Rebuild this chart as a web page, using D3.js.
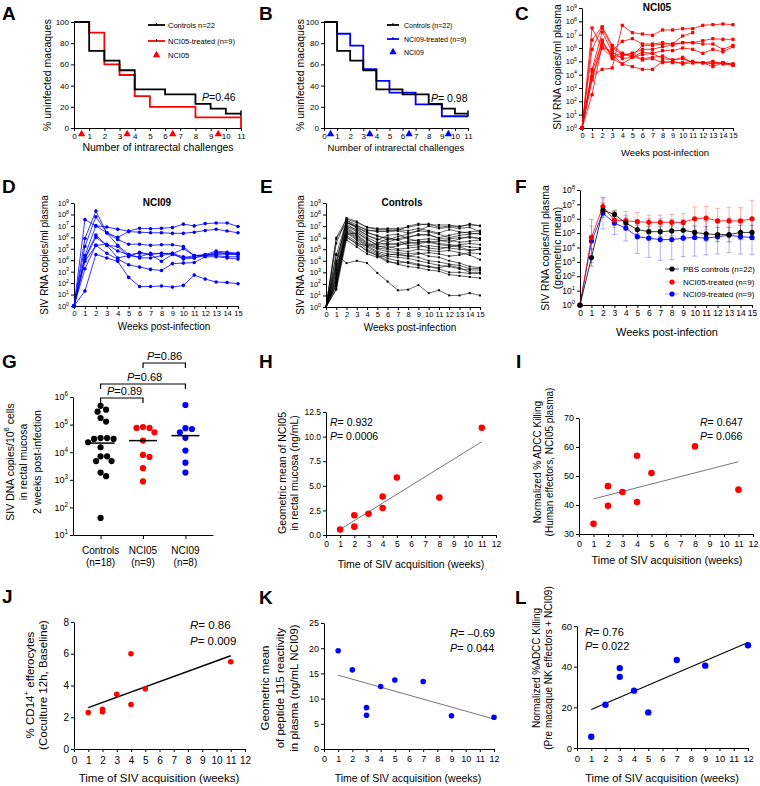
<!DOCTYPE html>
<html><head><meta charset="utf-8">
<script src="https://cdn.jsdelivr.net/npm/d3@7/dist/d3.min.js"></script>
<style>html,body{margin:0;padding:0;background:#fff;overflow:hidden}svg{display:block}</style>
</head><body>
<script>
// ================= DATA =================
// A/B: Kaplan-Meier (% uninfected) per challenge interval
const challengeX   = d3.range(0, 12);
const survTicks    = [0, 20, 40, 60, 80, 100];
const survControls = [100, 72.7, 63.6, 54.5, 36.4, 36.4, 31.8, 31.8, 22.7, 18.2, 13.6, 13.6];
const survNCI05    = [100, 90, 60, 50, 30, 20, 20, 20, 10, 10, 10, 0];
const survNCI09    = [100, 88.9, 77.8, 55.6, 44.4, 33.3, 33.3, 22.2, 22.2, 11.1, 11.1, 11.1];
const doseTimes    = [0.5, 3.5, 6.5, 9.5];

// C/D/E: log10 SIV RNA copies/ml, weeks 0..15
const weeks = d3.range(0, 16);
const vlNCI05 = [
 [0,3.9,4.4,4.5,7.7,7.15,7.05,6.95,7.35,7.35,7.45,7.45,7.7,7.75,7.8,7.75],
 [0,7.5,6.0,5.8,6.5,6.7,6.3,6.3,6.4,6.3,6.9,7.15,null,null,null,null],
 [0,6.6,7.6,6.2,5.6,5.4,6.2,6.2,6.3,6.3,6.4,6.4,6.55,6.7,6.65,6.65],
 [0,5.9,7.5,6.0,5.5,5.6,5.9,5.9,6.1,6.2,6.4,6.4,6.3,6.3,5.9,6.2],
 [0,4.4,7.2,5.7,5.2,5.3,5.7,5.6,5.8,5.8,6.0,5.9,5.6,5.9,5.7,6.1],
 [0,4.2,6.5,5.4,5.6,5.3,5.5,5.6,5.2,5.1,5.2,4.9,4.9,4.8,4.9,4.7],
 [0,3.8,6.0,5.3,5.4,5.6,5.1,5.2,4.9,5.0,4.8,4.9,4.9,4.6,4.9,4.8],
 [0,3.6,6.6,5.2,4.8,4.6,4.4,4.4,5.0,4.9,4.9,5.0,4.9,5.0,4.8,4.7],
 [0,2.5,6.3,5.5,4.8,5.3,5.2,5.3,5.4,5.1,5.3,4.9,4.9,4.9,4.9,4.8]
];
const vlNCI09 = [
 [0,7.55,7.0,6.9,6.7,6.55,6.8,6.75,6.8,6.85,7.15,7.0,7.2,7.25,7.25,6.95],
 [0,5.9,8.3,6.4,5.8,5.4,5.4,5.3,5.35,5.35,5.2,4.4,4.5,4.8,4.7,4.6],
 [0,5.2,7.8,6.4,6.0,6.5,6.45,6.4,6.4,6.35,6.35,6.45,6.6,6.7,6.55,6.4],
 [0,4.4,7.0,6.4,5.3,4.5,4.6,4.5,4.6,4.55,5.0,4.4,4.4,4.7,4.6,4.5],
 [0,4.2,6.2,5.3,5.2,4.3,4.7,4.5,3.9,4.5,4.2,4.4,4.4,4.6,4.5,4.5],
 [0,3.9,5.3,5.4,4.8,4.5,4.2,4.2,4.4,4.6,4.1,4.2,4.4,4.4,4.3,4.3],
 [0,3.25,5.3,4.6,4.1,3.6,3.4,3.2,3.1,3.7,3.75,3.8,4.3,4.3,4.2,4.1],
 [0,1.3,4.5,4.2,3.9,2.5,1.7,1.7,1.75,1.65,1.8,2.7,2.35,2.1,2.05,1.95],
 [0,4.1,6.0,5.3,4.2,4.4,4.3,4.6,4.6,4.6,4.3,4.2,4.5,4.5,4.6,4.6]
];
const vlControls = [
 [0,6.0,7.6,7.3,6.9,6.8,6.8,6.8,6.9,7.1,7.2,6.9,7.0,7.0,7.1,7.05],
 [0,5.5,7.7,7.4,6.9,6.7,6.7,6.6,7.0,7.2,7.1,7.1,7.1,6.9,7.2,7.0],
 [0,4.5,7.5,7.1,6.6,6.6,6.5,6.6,6.4,6.6,7.0,6.8,6.9,6.8,6.9,6.5],
 [0,4.0,7.3,6.9,6.4,6.2,5.8,6.1,6.3,6.6,6.5,6.3,6.0,6.2,6.3,6.4],
 [0,3.6,7.4,6.8,6.2,5.9,5.6,5.9,6.1,6.2,6.3,5.9,5.9,6.0,6.0,5.95],
 [0,3.2,7.2,6.6,6.0,5.6,5.4,5.5,5.7,5.8,5.9,5.8,5.6,5.9,6.1,5.9],
 [0,3.0,7.0,6.5,5.8,5.4,5.5,5.4,5.5,5.6,5.7,5.5,5.4,5.3,5.2,5.1],
 [0,2.8,6.9,6.3,5.6,5.2,5.3,5.0,5.1,5.2,5.3,5.2,5.1,5.0,4.9,5.0],
 [0,2.6,6.8,6.2,5.5,5.1,5.0,4.9,4.8,5.0,4.9,4.8,4.9,4.7,4.5,4.1],
 [0,2.4,6.7,6.1,5.4,5.0,4.8,4.7,4.6,4.7,4.4,4.3,4.0,3.8,3.5,3.4],
 [0,2.2,6.6,6.0,5.3,4.8,4.6,4.5,4.4,4.3,4.0,3.9,3.7,3.6,3.3,3.35],
 [0,2.0,6.5,5.9,5.2,4.7,4.4,4.3,4.2,4.0,3.8,3.6,3.5,3.3,3.2,3.2],
 [0,1.8,6.4,5.8,5.0,4.6,4.2,4.0,3.8,3.6,3.5,3.3,3.0,3.0,2.9,2.9],
 [0,1.6,6.2,5.6,4.8,4.5,4.0,3.7,3.5,3.4,3.2,3.1,2.8,2.7,2.6,2.5],
 [0,5.9,7.3,7.0,6.7,6.5,6.6,6.7,6.6,6.8,6.6,6.4,6.7,6.5,6.4,6.3],
 [0,3.4,6.0,5.5,5.3,5.5,5.9,5.8,5.3,5.4,5.1,5.0,5.2,5.4,5.5,5.4],
 [0,2.1,6.3,6.4,5.9,5.3,5.1,5.3,5.6,5.5,5.6,5.4,5.3,5.2,4.9,5.0],
 [0,1.5,5.8,5.2,4.6,4.3,4.5,4.6,4.4,4.6,4.7,4.6,4.4,4.5,4.7,4.6],
 [0,2.5,7.0,6.7,6.2,5.8,6.2,6.3,5.9,5.7,5.6,5.7,5.8,5.6,5.7,5.8],
 [0,3.8,7.5,6.9,6.5,6.1,6.0,5.8,6.0,6.3,6.2,6.0,6.2,6.4,6.5,6.6],
 [0,1.9,6.1,5.4,4.9,4.4,3.9,3.8,3.9,3.7,3.5,3.4,3.6,3.4,3.0,3.0],
 [0,4.6,3.8,4.0,3.8,2.95,2.2,1.45,1.5,1.9,1.2,1.45,1.0,1.0,1.2,1.0]
];

// F: geometric means (log10) and error (log10 units)
const meanControls = [0,3.3,6.6,6.3,5.7,5.25,5.1,5.1,5.15,5.2,5.05,4.95,4.9,4.9,5.05,5.05];
const meanNCI05    = [0,4.7,6.85,5.9,5.85,5.8,5.75,5.75,5.75,5.75,6.0,6.05,5.85,5.85,5.85,6.0];
const meanNCI09    = [0,4.45,6.4,5.7,5.35,4.75,4.65,4.55,4.55,4.65,4.7,4.65,4.75,4.85,4.75,4.7];
const errControls  = [0,0.6,0.5,0.3,0.35,0.3,0.35,0.35,0.35,0.4,0.45,0.5,0.5,0.5,0.5,0.5];
const errNCI05     = [0,0.8,0.6,0.5,0.65,0.63,0.5,0.5,0.55,0.6,0.83,0.81,0.88,0.95,0.92,1.25];
const errNCI09     = [0,1.5,1.1,0.8,0.9,1.16,1.34,1.44,1.4,1.28,1.3,1.16,1.2,1.2,1.2,1.2];

// G: log10 SIV DNA copies / 10^6 cells
const gCategories = ["Controls", "NCI05", "NCI09"];
const dnaControls = [5.68,5.54,5.47,5.24,5.11,4.51,4.51,4.48,4.48,4.36,4.18,3.85,3.85,3.68,3.68,3.26,3.13,1.62];
const dnaNCI05    = [4.88,4.88,4.91,4.72,4.42,3.9,3.83,3.42,2.94];
const dnaNCI09    = [5.71,4.72,4.87,4.84,4.52,4.06,3.62,3.26];
const dnaMedians  = [4.33, 4.42, 4.6];
const gPvalues    = ["0.89", "0.68", "0.86"];

// H-L: correlations
const hWeeks = [1,2,2,3,4,4,5,8,11];
const hNCI05 = [0.55,2.0,0.85,2.15,3.9,2.75,5.85,3.8,10.9];
const iWeeks = [1,2,2,3,4,4,5,8,11];
const iADCC  = [33.5,46.5,39.7,44.5,57,41,51,60.2,45.3];
const jWeeks = [1,2,2,3,4,4,5,11];
const jCD14  = [2.3,2.5,2.35,3.45,6.0,2.8,3.8,5.5];
const kWeeks = [1,2,3,3,4,5,7,9,12];
const kPep   = [19.5,15.7,8.2,6.7,12.4,13.7,13.4,6.6,6.3];
const lWeeks = [1,2,3,3,4,5,7,9,12];
const lADCC  = [5.5,21.3,39.3,35,28.2,17.5,43.3,40.5,50.5];
const acqTicks = d3.range(0, 13);

// ================= HELPERS =================
const FONT = '"Liberation Sans", Arial, Helvetica, sans-serif';
const RED = '#ff0000', BLUE = '#0000ff', BLACK = '#000000';
const svg = d3.select('body').append('svg').attr('width', 760).attr('height', 786).attr('font-family', FONT);

function txt(x, y, s, fs, o = {}) {
  const t = svg.append('text').attr('x', x).attr('y', y).attr('font-size', fs).attr('fill', '#000')
    .attr('dominant-baseline', o.base || 'central');
  if (o.anchor) t.attr('text-anchor', o.anchor);
  if (o.weight) t.attr('font-weight', o.weight);
  t.text(s); return t;
}
function itText(x, y, it, rest, fs, anchor) {
  const t = svg.append('text').attr('x', x).attr('y', y).attr('font-size', fs).attr('dominant-baseline', 'central');
  if (anchor) t.attr('text-anchor', anchor);
  t.append('tspan').attr('font-style', 'italic').text(it);
  t.append('tspan').text(rest);
  return t;
}
function rot(x, yc, fs, build) {
  const t = svg.append('text').attr('transform', `translate(${x},${yc}) rotate(-90)`)
    .attr('text-anchor', 'middle').attr('dominant-baseline', 'central').attr('font-size', fs);
  if (typeof build === 'string') t.text(build); else build(t);
  return t;
}
function styleAxis(g, fs) {
  g.attr('font-family', FONT).attr('font-size', fs);
  g.selectAll('.domain,.tick line').attr('stroke', '#000').attr('stroke-width', 1);
  g.selectAll('.tick text').attr('fill', '#000');
  return g;
}
function supTicks(g, fs) {
  g.selectAll('.tick text').each(function (d) {
    const e = Math.round(Math.log10(d));
    const t = d3.select(this); t.text(null);
    t.append('tspan').text('10');
    t.append('tspan').attr('dy', -fs * 0.45).attr('font-size', fs * 0.7).text(e);
  });
}
function letter(s, x, y) {
  svg.append('text').attr('x', x).attr('y', y).attr('font-size', 19).attr('font-weight', 'bold').text(s);
}

// ================= A / B =================
function survPanel(c) {
  const x = d3.scaleLinear().domain([0, 11]).range([c.x0, c.x1]);
  const y = d3.scaleLinear().domain([0, 100]).range([c.y0, c.y1]);
  styleAxis(svg.append('g').attr('transform', `translate(0,${c.y0})`)
    .call(d3.axisBottom(x).tickValues(challengeX).tickSize(3).tickSizeOuter(0).tickPadding(2)), c.fs);
  styleAxis(svg.append('g').attr('transform', `translate(${c.x0},0)`)
    .call(d3.axisLeft(y).tickValues(survTicks).tickSize(3).tickSizeOuter(0).tickPadding(2)), c.fs);
  const line = d3.line().x((d, i) => x(challengeX[i])).y(d => y(d)).curve(d3.curveStepAfter);
  svg.append('path').attr('d', line(c.treated)).attr('fill', 'none').attr('stroke', c.color).attr('stroke-width', 1.8);
  svg.append('path').attr('d', line(survControls)).attr('fill', 'none').attr('stroke', BLACK).attr('stroke-width', 1.8);
  const L = survControls.length - 1;
  svg.append('line').attr('x1', x(challengeX[L])).attr('x2', x(challengeX[L]))
    .attr('y1', y(survControls[L]) - 3).attr('y2', y(survControls[L]) + 3).attr('stroke', BLACK).attr('stroke-width', 1.5);
  const tri = d3.symbol(d3.symbolTriangle).size(24);
  doseTimes.forEach(t => svg.append('path').attr('d', tri()).attr('transform', `translate(${x(t)},${c.y0 + 6})`).attr('fill', c.color));
  // legend
  const lg = c.legend;
  [[BLACK, lg.ys[0], c.labels[0]], [c.color, lg.ys[1], c.labels[1]]].forEach(([col, yy, lab]) => {
    svg.append('line').attr('x1', lg.lx0).attr('x2', lg.lx1).attr('y1', yy).attr('y2', yy).attr('stroke', col).attr('stroke-width', 1.8);
    svg.append('line').attr('x1', (lg.lx0 + lg.lx1) / 2).attr('x2', (lg.lx0 + lg.lx1) / 2).attr('y1', yy - 2).attr('y2', yy).attr('stroke', BLACK).attr('stroke-width', 1);
    txt(lg.tx, yy, lab, lg.fs);
  });
  svg.append('path').attr('d', tri()).attr('transform', `translate(${(lg.lx0 + lg.lx1) / 2},${lg.ys[2]})`).attr('fill', c.color);
  txt(lg.tx, lg.ys[2], c.labels[2], lg.fs);
  itText(c.px, c.py, 'P', c.p, 10.5);
  rot(c.ylx, (c.y0 + c.y1) / 2, 10.5, '% uninfected macaques');
  txt(c.xlx, c.xly, 'Number of intrarectal challenges', c.xlfs, { anchor: 'middle' });
}
survPanel({ x0: 74, x1: 241, y0: 128, y1: 22, fs: 8, treated: survNCI05, color: RED,
  legend: { lx0: 148, lx1: 165, tx: 168, ys: [25, 41, 55], fs: 7.5 },
  labels: ['Controls n=22', 'NCI05-treated (n=9)', 'NCI05'], p: '=0.46', px: 202, py: 97,
  ylx: 47, xlx: 158, xly: 147, xlfs: 10.5 });
survPanel({ x0: 324, x1: 468, y0: 128, y1: 22, fs: 8, treated: survNCI09, color: BLUE,
  legend: { lx0: 387, lx1: 399, tx: 404, ys: [25, 39, 52], fs: 7 },
  labels: ['Controls (n=22)', 'NCI09-treated (n=9)', 'NCI09'], p: '= 0.98', px: 431, py: 98,
  ylx: 300, xlx: 396, xly: 147, xlfs: 9.5 });

// ================= C / D / E =================
function vlPanel(c) {
  const x = d3.scaleLinear().domain([0, 15]).range([c.x0, c.x1]);
  const y = d3.scaleLog().domain([1, 10 ** c.maxE]).range([c.y0, c.y1]);
  styleAxis(svg.append('g').attr('transform', `translate(0,${c.y0})`)
    .call(d3.axisBottom(x).tickValues(weeks).tickSize(3).tickSizeOuter(0).tickPadding(2)), c.fs);
  const gy = styleAxis(svg.append('g').attr('transform', `translate(${c.x0},0)`)
    .call(d3.axisLeft(y).tickValues(d3.range(0, c.maxE + 1).map(e => 10 ** e)).tickFormat(d => d).tickSize(3).tickSizeOuter(0).tickPadding(2)), c.fs);
  supTicks(gy, c.fs);
  const line = d3.line().defined(d => d != null).x((d, i) => x(weeks[i])).y(d => y(10 ** d));
  c.series.forEach(s => {
    svg.append('path').attr('d', line(s)).attr('fill', 'none').attr('stroke', c.color).attr('stroke-width', c.lw);
    s.forEach((v, i) => {
      if (v == null) return;
      if (c.square) svg.append('rect').attr('x', x(weeks[i]) - c.ms / 2).attr('y', y(10 ** v) - c.ms / 2).attr('width', c.ms).attr('height', c.ms).attr('fill', c.color);
      else svg.append('circle').attr('cx', x(weeks[i])).attr('cy', y(10 ** v)).attr('r', c.ms / 2).attr('fill', c.color);
    });
  });
  txt(c.tx, c.ty, c.title, 10, { anchor: 'middle', weight: 'bold' });
  rot(c.ylx, c.yly, c.ylfs, 'SIV RNA copies/ml plasma');
  txt(c.xlx, c.xly, 'Weeks post-infection', c.xlfs, { anchor: 'middle' });
}
vlPanel({ x0: 582, x1: 733, y0: 128, y1: 8, maxE: 9, fs: 7.5, series: vlNCI05, color: RED, lw: 0.8, ms: 3.2, square: true,
  title: 'NCI05', tx: 657, ty: 7, ylx: 557, yly: 67, ylfs: 10.5, xlx: 665, xly: 152, xlfs: 9.5 });
vlPanel({ x0: 74, x1: 238, y0: 306, y1: 203, maxE: 9, fs: 7.5, series: vlNCI09, color: BLUE, lw: 0.8, ms: 3.6, square: false,
  title: 'NCI09', tx: 157, ty: 202, ylx: 44, yly: 255, ylfs: 10, xlx: 164, xly: 326, xlfs: 10 });
vlPanel({ x0: 326, x1: 480, y0: 307, y1: 203, maxE: 9, fs: 7.5, series: vlControls, color: BLACK, lw: 0.6, ms: 2, square: true,
  title: 'Controls', tx: 402, ty: 202, ylx: 300, yly: 255, ylfs: 10, xlx: 410, xly: 327, xlfs: 10 });

// ================= F =================
(function () {
  const x = d3.scaleLinear().domain([0, 15]).range([580, 752]);
  const y = d3.scaleLog().domain([1, 1e8]).range([305, 190]);
  styleAxis(svg.append('g').attr('transform', `translate(0,305)`)
    .call(d3.axisBottom(x).tickValues(weeks).tickSize(3).tickSizeOuter(0).tickPadding(2)), 8.5);
  const gy = styleAxis(svg.append('g').attr('transform', `translate(580,0)`)
    .call(d3.axisLeft(y).tickValues(d3.range(0, 9).map(e => 10 ** e)).tickFormat(d => d).tickSize(3).tickSizeOuter(0).tickPadding(2)), 8.5);
  supTicks(gy, 8.5);
  const groups = [
    { m: meanNCI09, e: errNCI09, col: BLUE, err: 'rgba(80,80,255,0.45)', lab: 'NCI09-treated (n=9)' },
    { m: meanNCI05, e: errNCI05, col: RED, err: 'rgba(255,80,80,0.45)', lab: 'NCI05-treated (n=9)' },
    { m: meanControls, e: errControls, col: BLACK, err: 'rgba(0,0,0,0.35)', lab: 'PBS controls (n=22)' }
  ];
  groups.forEach(g => {
    g.m.forEach((v, i) => {
      if (g.e[i] <= 0) return;
      const xx = x(weeks[i]), ya = y(10 ** (v + g.e[i])), yb = y(10 ** (v - g.e[i]));
      svg.append('line').attr('x1', xx).attr('x2', xx).attr('y1', ya).attr('y2', yb).attr('stroke', g.err).attr('stroke-width', 1);
      [ya, yb].forEach(yy => svg.append('line').attr('x1', xx - 2.5).attr('x2', xx + 2.5).attr('y1', yy).attr('y2', yy).attr('stroke', g.err).attr('stroke-width', 1));
    });
  });
  const line = d3.line().x((d, i) => x(weeks[i])).y(d => y(10 ** d));
  groups.forEach(g => {
    svg.append('path').attr('d', line(g.m)).attr('fill', 'none').attr('stroke', g.col).attr('stroke-width', 0.8);
    g.m.forEach((v, i) => svg.append('circle').attr('cx', x(weeks[i])).attr('cy', y(10 ** v)).attr('r', 2.6).attr('fill', g.col));
  });
  const legOrder = [groups[2], groups[1], groups[0]];
  [269, 282, 294].forEach((yy, k) => {
    const g = legOrder[k];
    svg.append('line').attr('x1', 665).attr('x2', 679).attr('y1', yy).attr('y2', yy).attr('stroke', g.col === BLACK ? '#444' : g.err).attr('stroke-width', 1);
    svg.append('circle').attr('cx', 672).attr('cy', yy).attr('r', 2.6).attr('fill', g.col);
    txt(683, yy, g.lab, 8);
  });
  rot(545, 248, 10.5, 'SIV RNA copies/ml plasma');
  rot(557, 248, 10.5, '(geometric mean)');
  txt(667, 332, 'Weeks post-infection', 11, { anchor: 'middle' });
})();

// ================= G =================
(function () {
  const x = d3.scalePoint().domain(gCategories).range([73, 213]).padding(0.65);
  const y = d3.scaleLog().domain([10, 1e6]).range([535, 397]);
  styleAxis(svg.append('g').attr('transform', 'translate(0,535)')
    .call(d3.axisBottom(x).tickSize(4).tickSizeOuter(0).tickFormat('')), 9);
  const gy = styleAxis(svg.append('g').attr('transform', 'translate(73,0)')
    .call(d3.axisLeft(y).tickValues(d3.range(1, 7).map(e => 10 ** e)).tickFormat(d => d).tickSize(3).tickSizeOuter(0).tickPadding(2)), 9);
  supTicks(gy, 9);
  const sets = [[dnaControls, BLACK], [dnaNCI05, RED], [dnaNCI09, BLUE]];
  const r = 3.1, dmin = 2 * r + 0.3;
  sets.forEach(([vals, col], k) => {
    const cx = x(gCategories[k]);
    const pts = vals.map(v => ({ v, y: y(10 ** v) })).sort((a, b) => a.y - b.y);
    const placed = [];
    pts.forEach(p => {
      for (let j = 0; j < 400; j++) {
        const off = (j % 2 === 1 ? 1 : -1) * Math.ceil(j / 2) * 0.5;
        const xx = cx + off;
        if (placed.every(q => (q.x - xx) ** 2 + (q.y - p.y) ** 2 >= dmin * dmin)) { p.x = xx; break; }
      }
      placed.push(p);
    });
    placed.forEach(p => svg.append('circle').attr('cx', p.x).attr('cy', p.y).attr('r', r).attr('fill', col));
    const my = y(10 ** dnaMedians[k]);
    svg.append('line').attr('x1', cx - 14).attr('x2', cx + 14).attr('y1', my).attr('y2', my).attr('stroke', BLACK).attr('stroke-width', 1.5);
    txt(cx, 550, gCategories[k], 10, { anchor: 'middle' });
    txt(cx, 562, `(n=${vals.length})`, 10, { anchor: 'middle' });
  });
  // comparison brackets
  const br = [[0, 1, 398, 107], [0, 2, 384, 127], [1, 2, 363, 147]];
  br.forEach(([a, b, yy, tx], k) => {
    const xa = x(gCategories[a]), xb = x(gCategories[b]);
    svg.append('path').attr('d', `M${xa},${yy + 5}V${yy}H${xb}V${yy + 5}`).attr('fill', 'none').attr('stroke', BLACK).attr('stroke-width', 1.2);
    itText(tx, yy - 7, 'P', '=' + gPvalues[k], 11);
  });
  const t = svg.append('text').attr('transform', 'translate(10,462) rotate(-90)').attr('text-anchor', 'middle').attr('dominant-baseline', 'central').attr('font-size', 10.5);
  t.append('tspan').text('SIV DNA copies/10');
  t.append('tspan').attr('dy', -4).attr('font-size', 7.5).text('6');
  t.append('tspan').attr('dy', 4).text(' cells');
  rot(23, 462, 10.5, 'in rectal mucosa');
  rot(37, 462, 10.5, '2 weeks post-infection');
})();

// ================= H - L =================
function scatterPanel(c) {
  const x = d3.scaleLinear().domain([0, 12]).range([c.x0, c.x1]);
  const y = d3.scaleLinear().domain(c.yDom).range([c.y0, c.y1]);
  styleAxis(svg.append('g').attr('transform', `translate(0,${c.y0})`)
    .call(d3.axisBottom(x).tickValues(acqTicks).tickSize(3).tickSizeOuter(0).tickPadding(c.xpad)), c.fs);
  styleAxis(svg.append('g').attr('transform', `translate(${c.x0},0)`)
    .call(d3.axisLeft(y).tickValues(c.yTicks).tickFormat(d3.format(c.fmt)).tickSize(3).tickSizeOuter(0).tickPadding(2)), c.fs);
  const xs = c.xs, ys = c.ys;
  const mx = d3.mean(xs), my = d3.mean(ys);
  const b = d3.sum(xs, (v, i) => (v - mx) * (ys[i] - my)) / d3.sum(xs, v => (v - mx) ** 2);
  const a = my - b * mx;
  const [xa, xb] = d3.extent(xs);
  svg.append('line').attr('x1', x(xa)).attr('x2', x(xb)).attr('y1', y(a + b * xa)).attr('y2', y(a + b * xb))
    .attr('stroke', c.fitCol).attr('stroke-width', c.fitW);
  xs.forEach((v, i) => svg.append('circle').attr('cx', x(v)).attr('cy', y(ys[i])).attr('r', c.r).attr('fill', c.color));
  itText(c.sx, c.sy1, 'R', c.rTxt, c.sfs);
  itText(c.sx, c.sy2, 'P', c.pTxt, c.sfs);
  c.ylab.forEach((l, i) => rot(c.ylxs[i], c.yly, c.ylfs, l));
  txt(c.xlx, c.xly, 'Time of SIV acquisition (weeks)', c.xlfs, { anchor: 'middle' });
}
scatterPanel({ x0: 326, x1: 496, y0: 535, y1: 412, yDom: [0, 12.5], yTicks: [0, 2.5, 5, 7.5, 10, 12.5], fmt: '.1f', fs: 8.5, xpad: 3,
  xs: hWeeks, ys: hNCI05, color: RED, r: 3.3, fitCol: '#666', fitW: 0.9,
  sx: 330, sy1: 422, sy2: 436, rTxt: '= 0.932', pTxt: '= 0.0006', sfs: 10.5,
  ylab: ['Geometric mean of NCI05', 'in rectal mucosa (ng/mL)'], ylxs: [282, 294], yly: 473, ylfs: 10.5,
  xlx: 411, xly: 564, xlfs: 10.5 });
scatterPanel({ x0: 579, x1: 753, y0: 534, y1: 418, yDom: [30, 70], yTicks: [30, 40, 50, 60, 70], fmt: 'd', fs: 9, xpad: 4,
  xs: iWeeks, ys: iADCC, color: RED, r: 3.3, fitCol: '#666', fitW: 0.9,
  sx: 700, sy1: 422, sy2: 436, rTxt: '= 0.647', pTxt: '= 0.066', sfs: 10.5,
  ylab: ['Normalized % ADCC Killing', '(Human effectors, NCI05 plasma)'], ylxs: [537, 549], yly: 462, ylfs: 10,
  xlx: 667, xly: 560, xlfs: 10.8 });
scatterPanel({ x0: 74, x1: 245, y0: 749, y1: 622, yDom: [0, 8], yTicks: [0, 2, 4, 6, 8], fmt: 'd', fs: 10, xpad: 5,
  xs: jWeeks, ys: jCD14, color: RED, r: 2.8, fitCol: BLACK, fitW: 1.5,
  sx: 190, sy1: 625, sy2: 641, rTxt: '= 0.86', pTxt: '= 0.009', sfs: 11.5,
  ylab: [], ylxs: [], yly: 685, ylfs: 11.5,
  xlx: 159, xly: 778, xlfs: 11.5 });
(function () {
  const t = svg.append('text').attr('transform', 'translate(30,685) rotate(-90)').attr('text-anchor', 'middle').attr('dominant-baseline', 'central').attr('font-size', 11.5);
  t.append('tspan').text('% CD14');
  t.append('tspan').attr('dy', -4).attr('font-size', 8).text('+');
  t.append('tspan').attr('dy', 4).text(' efferocytes');
  rot(43, 685, 11.5, '(Coculture 12h, Baseline)');
})();
scatterPanel({ x0: 324, x1: 494, y0: 749, y1: 623, yDom: [0, 25], yTicks: [0, 5, 10, 15, 20, 25], fmt: 'd', fs: 9, xpad: 4,
  xs: kWeeks, ys: kPep, color: BLUE, r: 2.8, fitCol: '#666', fitW: 0.9,
  sx: 450, sy1: 633, sy2: 648, rTxt: '= \u20130.69', pTxt: '= 0.044', sfs: 11,
  ylab: ['Geometric mean', 'of peptide 115 reactivity', 'in plasma (ng/mL NCI09)'], ylxs: [265, 280, 294], yly: 688, ylfs: 11.5,
  xlx: 408, xly: 778, xlfs: 10.5 });
scatterPanel({ x0: 577, x1: 748, y0: 748, y1: 626, yDom: [0, 60], yTicks: [0, 20, 40, 60], fmt: 'd', fs: 9.5, xpad: 4,
  xs: lWeeks, ys: lADCC, color: BLUE, r: 3.2, fitCol: BLACK, fitW: 1.1,
  sx: 585, sy1: 632, sy2: 646, rTxt: '= 0.76', pTxt: '= 0.022', sfs: 11,
  ylab: ['Normalized %ADCC Killing', '(Pre macaque NK effectors + NCI09)'], ylxs: [536, 548], yly: 668, ylfs: 10,
  xlx: 662, xly: 778, xlfs: 11 });

// ================= panel letters =================
[['A', 2, 20], ['B', 259, 20], ['C', 515, 20], ['D', 2, 193], ['E', 260, 193], ['F', 515, 193],
 ['G', 2, 368], ['H', 259, 368], ['I', 516, 368], ['J', 2, 603], ['K', 259, 604], ['L', 515, 604]]
  .forEach(([s, x, y]) => letter(s, x, y));
</script>
</body></html>
